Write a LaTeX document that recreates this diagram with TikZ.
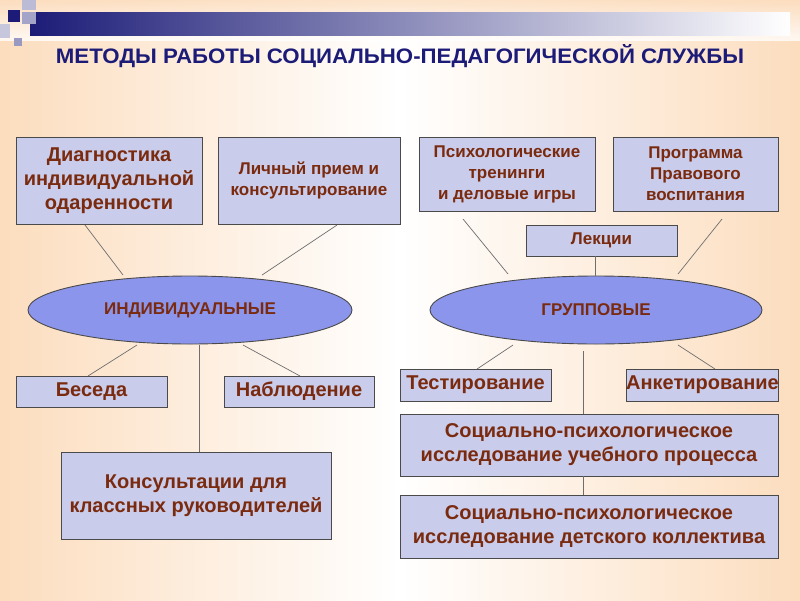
\documentclass[tikz,border=0pt]{standalone}
\usepackage{fontspec}
\setmainfont{Liberation Sans}
\definecolor{peach}{HTML}{FCDDBE}
\definecolor{boxf}{HTML}{C9CCEA}
\definecolor{ellf}{HTML}{8C95EC}
\definecolor{txt}{HTML}{7A2A0E}
\definecolor{navy}{HTML}{1C1C78}
\definecolor{edge}{HTML}{4A4A4A}
\tikzset{
 bx/.style={draw=edge,fill=boxf,line width=0.9pt,text=txt,font=\bfseries\fontsize{20}{24}\selectfont,align=center,inner sep=0pt},
 bxs/.style={bx,font=\bfseries\fontsize{17}{21}\selectfont},
 ell/.style={draw=edge,fill=ellf,ellipse,line width=0.9pt,text=txt,font=\bfseries\fontsize{17}{20}\selectfont,inner sep=0pt},
 ln/.style={draw=edge!80,line width=0.7pt}
}
\usetikzlibrary{shapes.geometric}
\begin{document}
\begin{tikzpicture}[x=1pt,y=-1pt]
\useasboundingbox (0,0) rectangle (800,600);
\shade[left color=peach,right color=peach,middle color=white] (0,0) rectangle (800,600);
\shade[top color=peach,bottom color=white,opacity=0.8] (0,0) rectangle (800,40);
% top decoration
\shade[left color=navy,right color=white] (30,12) rectangle (790,35);
\fill[navy] (8,10) rectangle (20,22);
\fill[navy!30] (22,0) rectangle (36,10);
\fill[navy!40] (22,12) rectangle (36,24);
\fill[navy!25] (0,24) rectangle (10,38);
\fill[navy!45] (14,38) rectangle (22,46);
\node[text=navy,font=\bfseries] (title) at (400,56) {\resizebox{688pt}{19pt}{МЕТОДЫ РАБОТЫ СОЦИАЛЬНО-ПЕДАГОГИЧЕСКОЙ СЛУЖБЫ}};
% boxes
\node[bx,minimum width=186,minimum height=87] (diag) at (109,180.5) {Диагностика\\индивидуальной\\одаренности};
\node[bxs,minimum width=182,minimum height=87] (lich) at (309,180.5) {Личный прием и\\консультирование};
\node[bxs,minimum width=176,minimum height=74] (psy) at (507,174) {Психологические\\тренинги\\и деловые игры};
\node[bxs,minimum width=165,minimum height=74] (prog) at (695.5,174) {Программа\\Правового\\воспитания};
\node[bxs,minimum width=151,minimum height=31] (lek) at (601.5,240.5) {Лекции};
\node[ell,minimum width=324,minimum height=68] (ind) at (190,310) {ИНДИВИДУАЛЬНЫЕ};
\node[ell,minimum width=332,minimum height=68] (grp) at (596,310) {ГРУППОВЫЕ};
\node[bx,minimum width=151,minimum height=31] (bes) at (91.5,391.5) {Беседа};
\node[bx,minimum width=150,minimum height=31] (nab) at (299,391.5) {Наблюдение};
\node[bx,minimum width=151,minimum height=32] (test) at (475.5,385) {Тестирование};
\node[bx,minimum width=151,minimum height=32] (ank) at (702.5,385) {Анкетирование};
\node[bx,minimum width=378,minimum height=62] (soc1) at (589,445) {Социально-психологическое\\исследование учебного процесса};
\node[bx,minimum width=378,minimum height=63] (soc2) at (589,526.5) {Социально-психологическое\\исследование детского коллектива};
\node[bx,minimum width=270,minimum height=87] (kons) at (196,495.5) {Консультации для\\классных руководителей};
% connector ends
\foreach \n/\x/\y in {a1/85/225,a2/123/275,b1/337/225,b2/262/275,c1/137/345,c2/88/376,d1/243/345,d2/300/376,e1/199/345,e2/199/452,f1/463/219,f2/508/274,g1/722/219,g2/678/274,h1/595/256,h2/595/276,i1/513/345,i2/477/369,j1/678/345,j2/715/369,k1/583/351,k2/583/414,l1/583/476,l2/583/495}
  \coordinate (\n) at (\x,\y);
\foreach \p in {a,b,c,d,e,f,g,h,i,j,k,l} \draw[ln] (\p1) -- (\p2);
\end{tikzpicture}
\end{document}
